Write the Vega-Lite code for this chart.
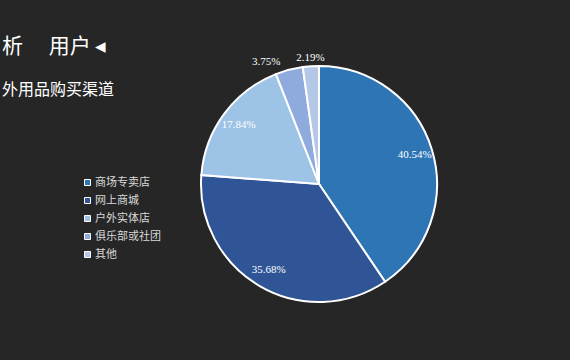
{
  "$schema": "https://vega.github.io/schema/vega-lite/v6.json",
  "width": 638,
  "height": 160,
  "autosize": {"type": "none"},
  "padding": {"top": 104, "left": 0, "right": 0, "bottom": 96},
  "background": "#262626",
  "config": {"view": {"stroke": null}},
  "title": {
    "text": "析\u3000   用户 ◂",
    "subtitle": "外用品购买渠道",
    "anchor": "start",
    "frame": "group",
    "dx": 2,
    "color": "#ffffff",
    "fontSize": 21,
    "font": "Noto Sans CJK SC",
    "fontWeight": "normal",
    "subtitleColor": "#ffffff",
    "subtitleFontSize": 16,
    "subtitleFont": "Noto Sans CJK SC",
    "subtitlePadding": 25,
    "offset": -46
  },
  "data": {
    "values": [
      {"channel": "商场专卖店", "pct": 40.54, "label": "40.54%", "idx": 1},
      {"channel": "网上商城", "pct": 35.68, "label": "35.68%", "idx": 2},
      {"channel": "户外实体店", "pct": 17.84, "label": "17.84%", "idx": 3},
      {"channel": "俱乐部或社团", "pct": 3.75, "label": "3.75%", "idx": 4},
      {"channel": "其他", "pct": 2.19, "label": "2.19%", "idx": 5}
    ]
  },
  "layer": [
    {
      "mark": {"type": "arc", "outerRadius": 118, "stroke": "#ffffff", "strokeWidth": 2},
      "encoding": {
        "theta": {"field": "pct", "type": "quantitative", "stack": true},
        "order": {"field": "idx", "type": "quantitative"},
        "color": {
          "field": "channel",
          "type": "nominal",
          "sort": null,
          "scale": {
            "domain": ["商场专卖店", "网上商城", "户外实体店", "俱乐部或社团", "其他"],
            "range": ["#2E75B6", "#2F5597", "#9DC3E6", "#8FAADC", "#B4C7E7"]
          },
          "legend": {
            "orient": "none",
            "legendX": 82,
            "legendY": 73,
            "title": null,
            "symbolType": "square",
            "symbolSize": 36,
            "symbolStrokeColor": "#ffffff",
            "symbolStrokeWidth": 1,
            "labelColor": "#d9d9d9",
            "labelFont": "Noto Sans CJK SC",
            "labelFontSize": 11,
            "labelOffset": 2,
            "rowPadding": 6
          }
        }
      }
    },
    {
      "mark": {
        "type": "text",
        "font": "Liberation Serif",
        "fontSize": 11,
        "color": "#ffffff",
        "radius": {"expr": "datum.pct < 5 ? 126 : 100"},
        "dx": {"expr": "datum.idx == 4 ? -21 : 0"}
      },
      "encoding": {
        "theta": {"field": "pct", "type": "quantitative", "stack": true},
        "order": {"field": "idx", "type": "quantitative"},
        "text": {"field": "label"}
      }
    }
  ]
}
